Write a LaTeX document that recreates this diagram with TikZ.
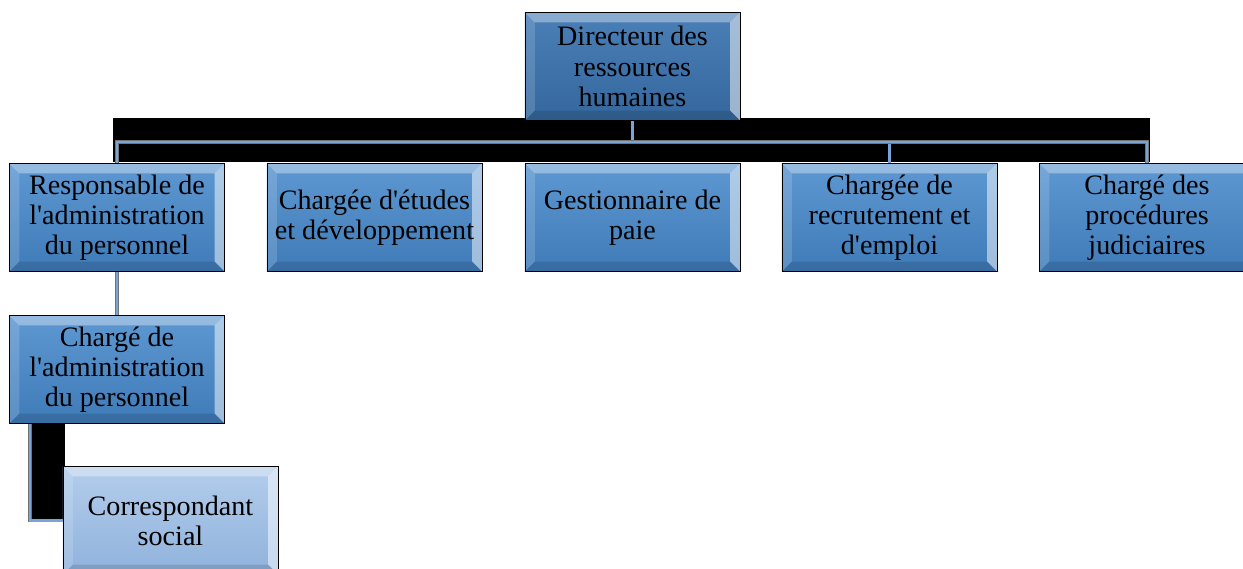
\documentclass[tikz,border=0pt]{standalone}
\usepackage{fontspec}
\setmainfont{Liberation Serif}[Ligatures=TeXOff]
\usepackage{tikz}
\usetikzlibrary{calc}

\definecolor{boxtop}{HTML}{5E98D2}
\definecolor{boxbot}{HTML}{3F7BB8}
\definecolor{dirtop}{HTML}{4A7FB7}
\definecolor{dirbot}{HTML}{35679D}
\definecolor{corrtop}{HTML}{B3CDEC}
\definecolor{corrbot}{HTML}{90B2DC}
\definecolor{connblue}{HTML}{78A4D8}

\begin{document}
\begin{tikzpicture}[x=0.025cm,y=-0.025cm,line width=.6pt,
    bevel/.style={path picture={
        \fill[white,opacity=.35] (path picture bounding box.north west) -- (path picture bounding box.north east)
          -- ++(-.25cm,-.25cm) -- ($(path picture bounding box.north west)+(.25cm,-.25cm)$) -- cycle;
        \fill[white,opacity=.5] (path picture bounding box.north east) -- (path picture bounding box.south east)
          -- ++(-.25cm,.25cm) -- ($(path picture bounding box.north east)+(-.25cm,-.25cm)$) -- cycle;
        \fill[black,opacity=.12] (path picture bounding box.south west) -- (path picture bounding box.south east)
          -- ++(-.25cm,.25cm) -- ($(path picture bounding box.south west)+(.25cm,.25cm)$) -- cycle;
        \fill[white,opacity=.15] (path picture bounding box.north west) -- (path picture bounding box.south west)
          -- ++(.25cm,.25cm) -- ($(path picture bounding box.north west)+(.25cm,-.25cm)$) -- cycle;}},
    poste/.style={draw=black,top color=boxtop,bottom color=boxbot,bevel,
        minimum width=5.375cm,minimum height=2.7cm,inner sep=0pt,align=center,
        font=\fontsize{20}{21.5}\selectfont},
    directeur/.style={poste,top color=dirtop,bottom color=dirbot},
    adjoint/.style={poste,top color=corrtop,bottom color=corrbot},
    conn/.style={draw=black!55,line width=.5pt,double=connblue,double distance=1.8pt}]
          \clip (0,0) rectangle (1243,569);
          % fonds noirs
          \fill[black] (113,118) rectangle (1150,162);
          \fill[black] (30,423) rectangle (65,520);

          \node[directeur] (dir) at (632.5,66.5) {Directeur des\\ressources\\humaines};
          \node[poste] (resp) at (117,217.5) {Responsable de\\l'administration\\du personnel};
          \node[poste] (etude) at (374.5,217.5) {Chargée d'études\\et développement};
          \node[poste] (paie) at (632.5,217.5) {Gestionnaire de\\paie};
          \node[poste] (recr) at (889.5,217.5) {Chargée de\\recrutement et\\d'emploi};
          \node[poste] (proc) at (1147,217.5) {Chargé des\\procédures\\judiciaires};
          \node[poste] (charg) at (117,369.5) {Chargé de\\l'administration\\du personnel};
          \node[adjoint] (corr) at (170.5,520.5) {Correspondant\\social};

          \coordinate (bus) at (632.5,142);
          \draw[conn] (dir.south) -- (bus);
          \draw[conn] (bus) -| (resp.north);
          \draw[conn] (bus) -| (recr.north);
          \draw[conn] (bus) -| (proc.north);
          \draw[conn] (resp.south) -- (charg.north);
          \draw[conn] ([xshift=.525cm]charg.south west) |- (corr.west);
        \end{tikzpicture}
\end{document}
